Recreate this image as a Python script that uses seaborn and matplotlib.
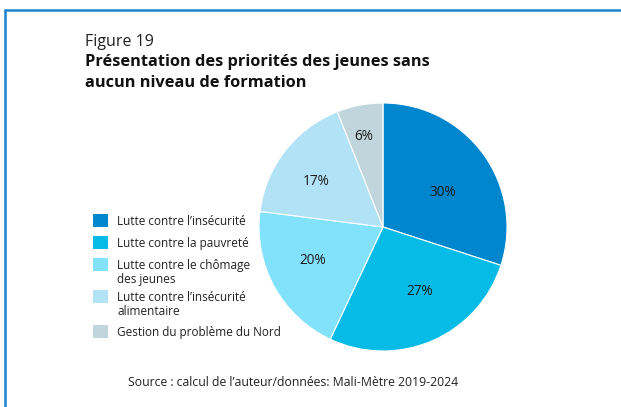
import matplotlib
matplotlib.use("Agg")
import numpy as np
import matplotlib.pyplot as plt
from matplotlib.patches import Rectangle
from matplotlib.lines import Line2D
import seaborn as sns

sns.set_theme(style="white")
plt.rcParams["font.family"] = ["Open Sans", "DejaVu Sans"]

categories = [
    "Lutte contre l\u2019insécurité",
    "Lutte contre la pauvreté",
    "Lutte contre le chômage\ndes jeunes",
    "Lutte contre l\u2019insécurité\nalimentaire",
    "Gestion du problème du Nord",
]
shares = [30, 27, 20, 17, 6]
colors = sns.color_palette(["#0086cd", "#06bce6", "#82e1fb", "#b1e2f6", "#c1d5dd"])

# placement of the percentage labels inside each wedge
label_radius = [0.556, 0.60, 0.627, 0.65, 0.747]
label_turn = [-6, 6.5, -3, 3.5, 1]

W, H = 621, 407
fig = plt.figure(figsize=(W / 100, H / 100), dpi=100)
fig.patch.set_facecolor("white")

# frame lines along the top and left edges
fig.add_artist(Line2D([5 / W, 5 / W], [0, 1 - 10 / H], transform=fig.transFigure,
                      color="#1b84d2", lw=1.8))
fig.add_artist(Line2D([5 / W, 1], [1 - 10 / H, 1 - 10 / H], transform=fig.transFigure,
                      color="#1b84d2", lw=1.8))

# headings
fig.text(85 / W, 1 - 42 / H, "Figure 19", fontsize=11.5, color="#222222",
         va="center", ha="left")
fig.text(85 / W, 1 - 62 / H, "Présentation des priorités des jeunes sans",
         fontsize=11.8, fontweight="bold", color="#111111", va="center", ha="left")
fig.text(85 / W, 1 - 83 / H, "aucun niveau de formation",
         fontsize=11.8, fontweight="bold", color="#111111", va="center", ha="left")

# pie
cx, cy, r = 383, 227, 124
ax = fig.add_axes([(cx - r) / W, (H - cy - r) / H, 2 * r / W, 2 * r / H])
wedges, texts = ax.pie(
    shares, colors=colors, startangle=90, counterclock=False, radius=1,
    wedgeprops=dict(edgecolor="white", linewidth=0.8),
)
for w, v, d, t in zip(wedges, shares, label_radius, label_turn):
    ang = np.deg2rad((w.theta1 + w.theta2) / 2 + t)
    ax.text(d * np.cos(ang), d * np.sin(ang), f"{v}%", ha="center", va="center",
            fontsize=9.8, color="#1a1a1a")
ax.set_xlim(-1, 1)
ax.set_ylim(-1, 1)
ax.set_aspect("equal")
ax.axis("off")

# legend: swatch and label per category
rows = [220.5, 242.5, 264.5, 296, 331.5]
for y, lab, c in zip(rows, categories, colors):
    fig.add_artist(Rectangle((93 / W, 1 - (y + 6.5) / H), 15 / W, 13 / H,
                             transform=fig.transFigure, facecolor=c, edgecolor="none"))
    fig.text(117 / W, 1 - (y - 5.3) / H, lab, fontsize=8.5, color="#222222",
             va="top", ha="left", linespacing=1.12)

# source
fig.text(293 / W, 1 - 382 / H, "Source : calcul de l\u2019auteur/données: Mali-Mètre 2019-2024",
         fontsize=8.8, color="#222222", ha="center", va="center")

fig.savefig("out.png", dpi=100)
